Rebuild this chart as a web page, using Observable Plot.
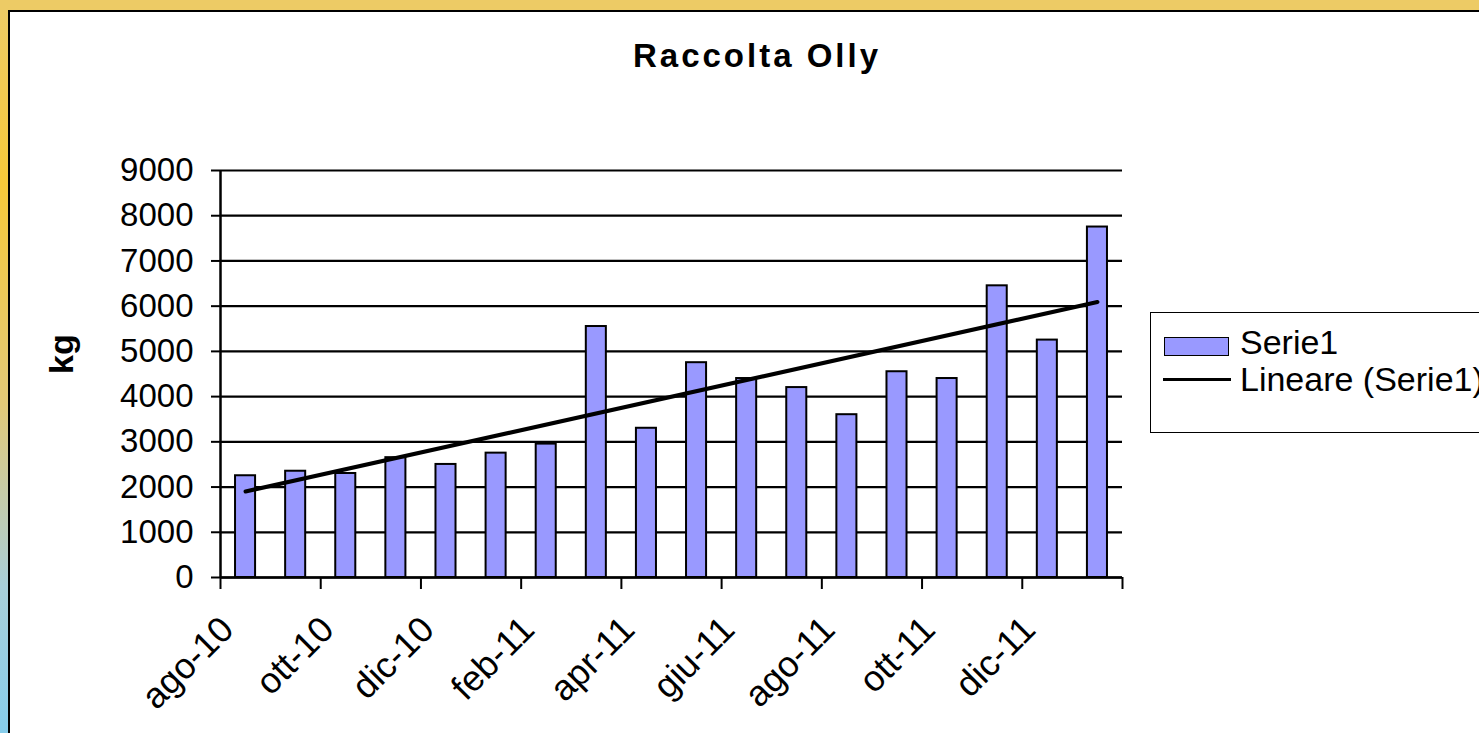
<!DOCTYPE html>
<html>
<head>
<meta charset="utf-8">
<script src="https://cdn.jsdelivr.net/npm/d3@7"></script>
<script src="https://cdn.jsdelivr.net/npm/@observablehq/plot@0.6"></script>
<style>
  html, body { margin: 0; padding: 0; width: 1479px; height: 733px; overflow: hidden; background: #fff; }
  #frame { position: absolute; left: 0; top: 0; width: 1479px; height: 733px;
    background: linear-gradient(to bottom, #EDCB65 0px, #EDCB65 10px, #F6C93A 25%, #E2C978 55%, #A9CFD9 80%, #86CDEB 100%); overflow: hidden; }
  #inner { position: absolute; left: 8px; top: 10px; right: -10px; bottom: -10px; background: #fff;
    border-top: 2.5px solid #000; border-left: 2.5px solid #000; }
  #chart { position: absolute; left: 0; top: 0; }
  #title { position: absolute; left: 0; width: 1514px; top: 39px; text-align: center; line-height: 33px;
    font-family: "Liberation Sans", Arial, sans-serif; font-weight: bold; font-size: 33px; letter-spacing: 3px; color: #000; }
  #legend { position: absolute; left: 1150px; top: 312px; width: 400px; height: 119px; border: 1.5px solid #000; background: #fff;
    font-family: "Liberation Sans", Arial, sans-serif; font-size: 34px; color: #000; overflow: hidden; }
  .sw { position: absolute; left: 13px; top: 24px; width: 63px; height: 17px; background: #9999FF; border: 1.5px solid #000; }
  .ln { position: absolute; left: 12px; top: 65px; width: 68px; height: 3px; background: #000; }
  .lt { position: absolute; left: 89px; line-height: 34px; white-space: nowrap; }
</style>
</head>
<body>
<div id="frame"><div id="inner"></div></div>
<div id="chart"></div>
<div id="title">Raccolta Olly</div>
<div id="legend">
  <div class="sw"></div><div class="lt" style="top:12px">Serie1</div>
  <div class="ln"></div><div class="lt" style="top:49px">Lineare (Serie1)</div>
</div>
<script>
const months = ["ago-10","set-10","ott-10","nov-10","dic-10","gen-11","feb-11","mar-11","apr-11",
                "mag-11","giu-11","lug-11","ago-11","set-11","ott-11","nov-11","dic-11","gen-12"];
const kg = [2250, 2350, 2300, 2650, 2500, 2750, 2950, 5550, 3300,
            4750, 4400, 4200, 3600, 4550, 4400, 6450, 5250, 7750];
const tickLabels = ["ago-10","ott-10","dic-10","feb-11","apr-11","giu-11","ago-11","ott-11","dic-11"];
const yTicks = [0,1000,2000,3000,4000,5000,6000,7000,8000,9000];
const yLabel = "kg";

const data = months.map((m, i) => ({month: m, idx: i, value: kg[i]}));
const xTicks = d3.range(0, months.length + 1, 2);

const chart = Plot.plot({
  width: 1479,
  height: 733,
  marginLeft: 220,
  marginRight: 357,
  marginTop: 170,
  marginBottom: 156,
  style: {fontFamily: "Liberation Sans, Arial, sans-serif", fontSize: "33px", color: "#000", background: "transparent", overflow: "visible"},
  x: {domain: [0, months.length]},
  y: {domain: [0, 9000]},
  marks: [
    Plot.gridY(yTicks, {stroke: "#000", strokeOpacity: 1, strokeWidth: 2.2}),
    Plot.rectY(data, {x1: d => d.idx + 0.3, x2: d => d.idx + 0.7, y1: 0, y2: "value",
      fill: "#9999FF", stroke: "#000", strokeWidth: 2}),
    Plot.linearRegressionY(data, {x: d => d.idx + 0.5, y: "value", ci: 0, stroke: "#000", strokeWidth: 4}),
    Plot.ruleX([0], {stroke: "#000", strokeWidth: 2.5}),
    Plot.ruleY([0], {stroke: "#000", strokeWidth: 2.5}),
    Plot.axisY({ticks: yTicks, tickSize: 9, tickPadding: 18, tickFormat: d => String(d), label: null, strokeWidth: 2}),
    Plot.axisX({ticks: xTicks, tickSize: 12, tickFormat: () => "", label: null, strokeWidth: 2}),
    Plot.axisX({ticks: xTicks, tickSize: 0, tickPadding: 46, tickRotate: -45, fontSize: 36, dx: 7,
      tickFormat: d => tickLabels[d / 2] ?? "", label: null}),
    Plot.text([yLabel], {frameAnchor: "left", dx: -158, rotate: -90, fontSize: 34, fontWeight: "bold"})
  ]
});
document.getElementById("chart").appendChild(chart);
</script>
</body>
</html>
